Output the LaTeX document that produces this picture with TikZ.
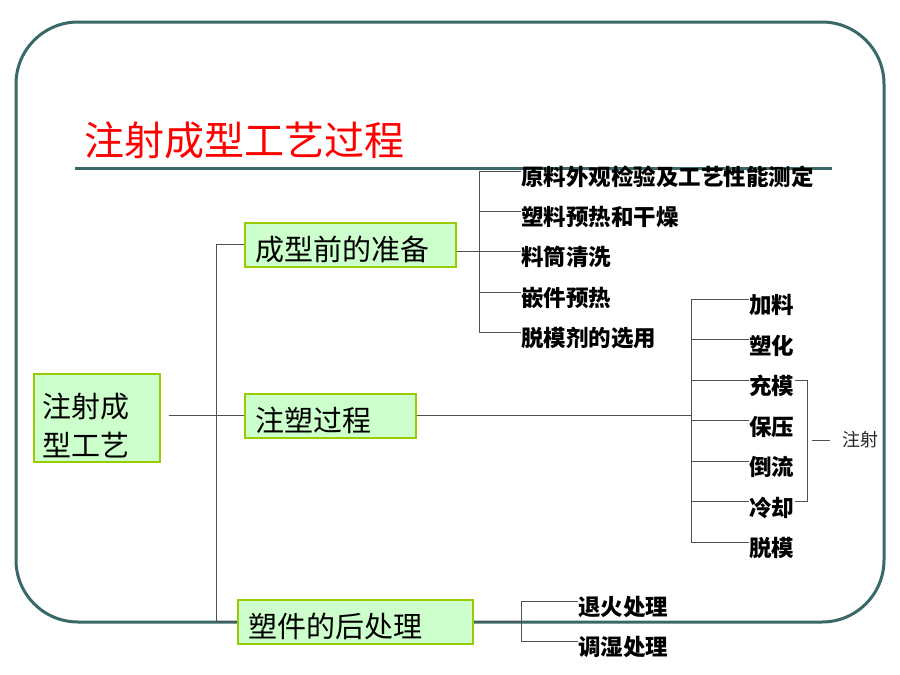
\documentclass[tikz,border=0pt]{standalone}
\usepackage{fontspec}
\newfontfamily\cjk{Noto Sans CJK SC}
\usetikzlibrary{positioning}
\definecolor{frameteal}{RGB}{56,104,104}
\definecolor{boxfill}{RGB}{204,255,204}
\definecolor{boxline}{RGB}{153,204,0}
\definecolor{linkgray}{RGB}{80,80,80}
\tikzset{every picture/.style={line width=0.75pt}}

\begin{document}
\begin{tikzpicture}[x=1pt,y=-1pt,
  frame/.style={draw=frameteal,line width=3pt},
  stagebox/.style={draw=boxline,fill=boxfill,line width=1.5pt,anchor=north west,
    inner xsep=11pt,inner ysep=0pt,text height=38pt,text depth=6pt,align=left,
    font=\cjk\fontsize{29}{39}\selectfont},
  item/.style={anchor=west,inner sep=0pt,text height=30pt,text depth=1pt,
    font=\cjk\bfseries\fontsize{22.5}{27}\selectfont},
  link/.style={draw=linkgray,line width=1pt}]
\useasboundingbox (0,0) rectangle (900,675);
%
\draw[frame,rounded corners=62pt] (16,22) rectangle (884,622);
\node[anchor=west,inner sep=0pt,text=red,font=\cjk\fontsize{40}{44}\selectfont] (title) at (84,140) {注射成型工艺过程};
\draw[frame] (75,168) -- (832,168);
%
\node[stagebox,inner xsep=9pt,text width=108pt,text height=44pt,text depth=44pt] (main) at (33,373) {注射成\\型工艺};
\node[stagebox,text width=189pt] (A) at (244,222) {成型前的准备};
\node[stagebox,text width=149pt] (B) at (244,393) {注塑过程};
\node[stagebox,text width=213pt] (C) at (237,599) {塑件的后处理};
%
\node[item] (p1) at (521,171) {原料外观检验及工艺性能测定};
\node[item] (p2) at (521,211) {塑料预热和干燥};
\node[item] (p3) at (521,251) {料筒清洗};
\node[item] (p4) at (521,292) {嵌件预热};
\node[item] (p5) at (521,332) {脱模剂的选用};
%
\node[item] (j1) at (749,299) {加料};
\node[item] (j2) at (749,339.5) {塑化};
\node[item] (j3) at (749,380) {充模};
\node[item] (j4) at (749,420.5) {保压};
\node[item] (j5) at (749,461) {倒流};
\node[item] (j6) at (749,501.5) {冷却};
\node[item] (j7) at (749,542) {脱模};
\node[anchor=west,inner sep=0pt,text=black!85,font=\cjk\fontsize{18}{20}\selectfont] (inj) at (842,440) {注射};
%
\node[item] (q1) at (578,601) {退火处理};
\node[item] (q2) at (578,641) {调湿处理};
%
\coordinate (pbrk) at (479,0);
\coordinate (jbrk) at (691,0);
\coordinate (qbrk) at (521,0);
%
\draw[link] ([xshift=8pt]main.east |- B.west) -- (B.west);
\draw[link] (A.west) -- ++(-28,0) |- (C.west);
\draw[link] (A.east |- p3.west) -- (p3.west);
\draw[link] (B.east) -- (B.east -| jbrk);
\draw[link] (C.east) -- (C.east -| qbrk);
%
\draw[link] (pbrk |- p1.west) -- (pbrk |- p5.west);
\draw[link] (jbrk |- j1.west) -- (jbrk |- j7.west);
\draw[link] (qbrk |- q1.west) -- (qbrk |- q2.west);
\foreach \Target in {p1,p2,p3,p4,p5}
\draw[link] (pbrk |- \Target.west) -- (\Target.west);
\foreach \Target in {j1,j2,j3,j4,j5,j6,j7}
\draw[link] (jbrk |- \Target.west) -- (\Target.west);
\foreach \Target in {q1,q2}
\draw[link] (qbrk |- \Target.west) -- (\Target.west);
%
\draw[link] (j3.east) -- ++(13,0) |- (j6.east);
\draw[link] ([xshift=-12pt]inj.west) -- ([xshift=-30pt]inj.west);
\end{tikzpicture}
\end{document}
